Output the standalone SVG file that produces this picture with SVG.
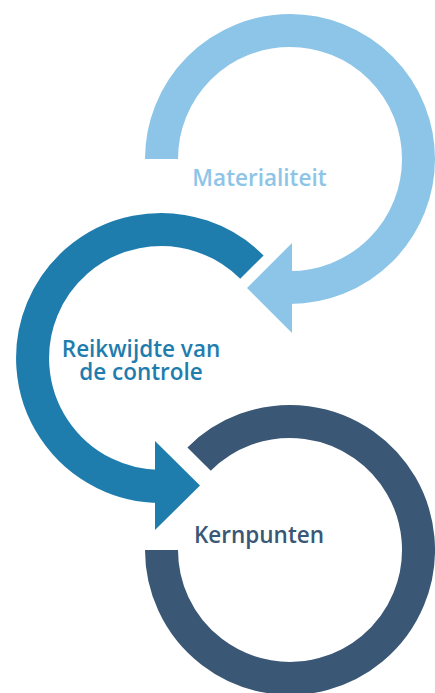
<svg xmlns="http://www.w3.org/2000/svg" width="435" height="693" viewBox="0 0 435 693">
<style>
.ring{fill:none;stroke-width:33;stroke-linecap:butt}
.lbl{font-family:"Open Sans","Liberation Sans",sans-serif;font-weight:600;font-size:22.5px;text-anchor:middle}
</style>
<rect width="435" height="693" fill="#ffffff"/>
<g id="connectors">
<path class="ring" stroke="#8DC5E8" d="M161.5,159 A128.5,128.5 0 1 1 290,287.5 L292,287.5"/>
<polygon fill="#8DC5E8" points="292,243 292,333 247,288"/>
<path class="ring" stroke="#1F7DAE" d="M251.9,267.1 A128.5,128.5 0 1 0 161,486.5"/>
<polygon fill="#1F7DAE" points="155,441 155,530 200,485.5"/>
<path class="ring" stroke="#3A5775" d="M199.1,459.1 A128.5,128.5 0 1 1 161.5,550"/>
</g>
<g id="materialiteit">
<text class="lbl" x="259.5" y="186" fill="#8DC5E8">Materialiteit</text>
</g>
<g id="reikwijdte">
<text class="lbl" x="141" y="357" fill="#1F7DAE" font-size="23">Reikwijdte van</text>
<text class="lbl" x="141" y="380" fill="#1F7DAE" font-size="23">de controle</text>
</g>
<g id="kernpunten">
<text class="lbl" x="259" y="543" fill="#3A5775">Kernpunten</text>
</g>
</svg>
